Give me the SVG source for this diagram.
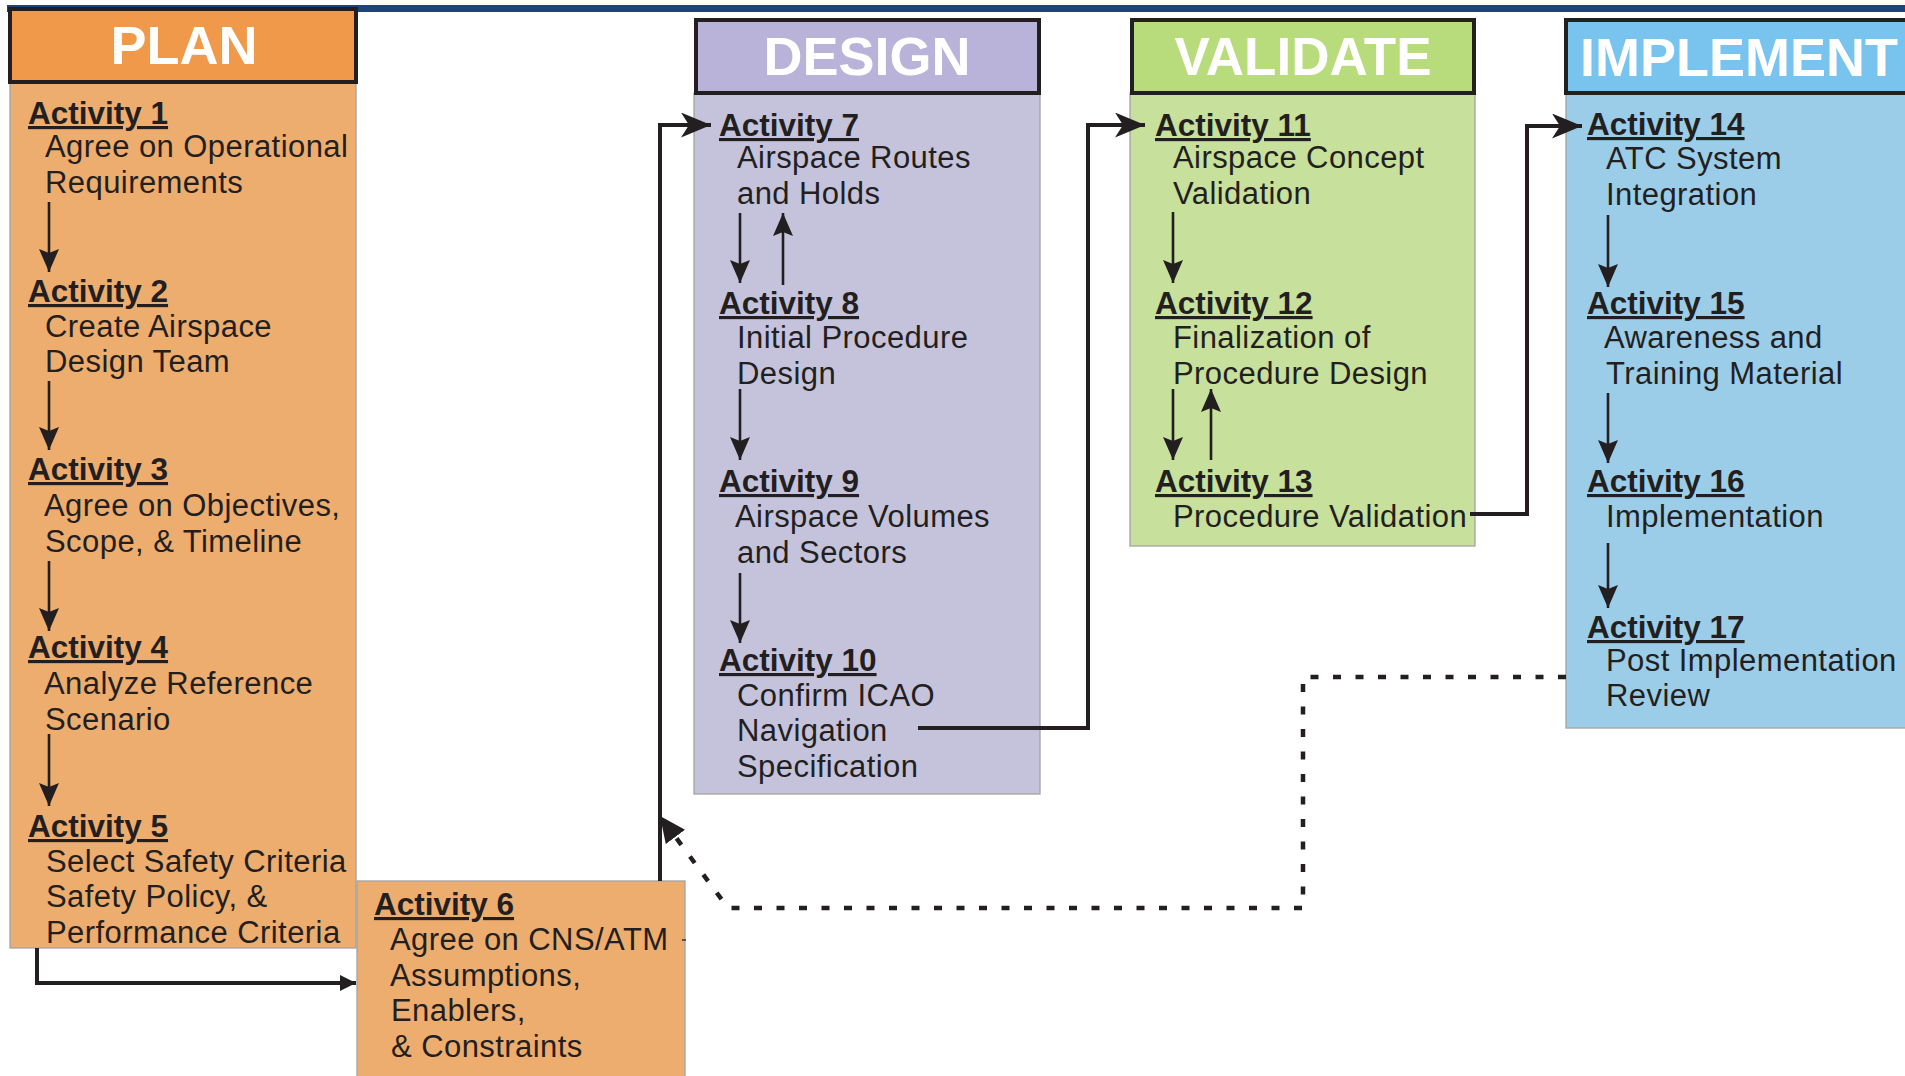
<svg xmlns="http://www.w3.org/2000/svg" width="1905" height="1076" viewBox="0 0 1905 1076">
  <defs>
    <style>
      .hdr { stroke: #231f20; stroke-width: 4; }
      .body { stroke: #a3a3a3; stroke-width: 1.3; }
      .htxt { font-family: "Liberation Sans", Arial, sans-serif; font-weight: bold; font-size: 54px; fill: #ffffff; text-anchor: middle; }
      .act { font-family: "Liberation Sans", Arial, sans-serif; font-weight: bold; font-size: 31.5px; fill: #231f20; text-decoration: underline; }
      .desc { font-family: "Liberation Sans", Arial, sans-serif; font-size: 31px; letter-spacing: 0.43px; fill: #231f20; }
      .thin { fill: none; stroke: #231f20; stroke-width: 2.6; }
      .thick { fill: none; stroke: #231f20; stroke-width: 4; }
      .dots { fill: none; stroke: #231f20; stroke-width: 4.5; stroke-dasharray: 8 14.5; }
    </style>
    <marker id="ah" markerUnits="userSpaceOnUse" viewBox="0 0 23 20" refX="23" refY="10" markerWidth="23" markerHeight="20" orient="auto">
      <path d="M0,0 L23,10 L0,20 L4,10 Z" fill="#231f20"/>
    </marker>
    <marker id="ahBig" markerUnits="userSpaceOnUse" viewBox="0 0 30 25" refX="30" refY="12.5" markerWidth="30" markerHeight="25" orient="auto">
      <path d="M0,0 L30,12.5 L0,25 L8,12.5 Z" fill="#231f20"/>
    </marker>
    <marker id="ahSmall" markerUnits="userSpaceOnUse" viewBox="0 0 16 16" refX="16" refY="8" markerWidth="16" markerHeight="16" orient="auto">
      <path d="M0,0 L16,8 L0,16 Z" fill="#231f20"/>
    </marker>
    <marker id="ahDot" markerUnits="userSpaceOnUse" viewBox="0 0 26 24" refX="26" refY="12" markerWidth="26" markerHeight="24" orient="auto">
      <path d="M0,0 L26,12 L0,24 Z" fill="#231f20"/>
    </marker>
  </defs>

  <rect x="0" y="0" width="1905" height="1076" fill="#ffffff"/>
  <!-- top navy rule -->
  <rect x="7" y="5" width="1898" height="7" fill="#1f4278"/>

  <!-- PLAN column -->
  <g id="plan-column">
    <rect class="body" x="10" y="83" width="346" height="865" fill="#edad6e"/>
    <rect class="hdr" x="10" y="9" width="346" height="73" fill="#f0994a"/>
    <text class="htxt" x="184" y="64">PLAN</text>
  </g>
  <g id="activity-1">
    <text class="act" x="28" y="124">Activity 1</text>
    <text class="desc" x="45" y="157">Agree on Operational</text>
    <text class="desc" x="45" y="193">Requirements</text>
  </g>
  <g id="activity-2">
    <text class="act" x="28" y="302">Activity 2</text>
    <text class="desc" x="45" y="337">Create Airspace</text>
    <text class="desc" x="45" y="372">Design Team</text>
  </g>
  <g id="activity-3">
    <text class="act" x="28" y="480">Activity 3</text>
    <text class="desc" x="44" y="516">Agree on Objectives,</text>
    <text class="desc" x="45" y="552">Scope, &amp; Timeline</text>
  </g>
  <g id="activity-4">
    <text class="act" x="28" y="658">Activity 4</text>
    <text class="desc" x="44" y="694">Analyze Reference</text>
    <text class="desc" x="45" y="730">Scenario</text>
  </g>
  <g id="activity-5">
    <text class="act" x="28" y="837">Activity 5</text>
    <text class="desc" x="46" y="872">Select Safety Criteria</text>
    <text class="desc" x="46" y="907">Safety Policy, &amp;</text>
    <text class="desc" x="46" y="943">Performance Criteria</text>
  </g>
  <g id="activity-6">
    <rect class="body" x="357" y="881" width="328" height="200" fill="#edad6e"/>
    <text class="act" x="374" y="915">Activity 6</text>
    <text class="desc" x="390" y="950">Agree on CNS/ATM</text>
    <text class="desc" x="390" y="986">Assumptions,</text>
    <text class="desc" x="391" y="1021">Enablers,</text>
    <text class="desc" x="391" y="1057">&amp; Constraints</text>
    <line x1="682" y1="940" x2="686" y2="940" stroke="#555555" stroke-width="2"/>
  </g>

  <!-- DESIGN column -->
  <g id="design-column">
    <rect class="body" x="694" y="93" width="346" height="701" fill="#c5c3dc"/>
    <rect class="hdr" x="696" y="20" width="343" height="73" fill="#b9b3d9"/>
    <text class="htxt" x="867" y="75">DESIGN</text>
  </g>
  <g id="activity-7">
    <text class="act" x="719" y="136">Activity 7</text>
    <text class="desc" x="737" y="168">Airspace Routes</text>
    <text class="desc" x="737" y="204">and Holds</text>
  </g>
  <g id="activity-8">
    <text class="act" x="719" y="314">Activity 8</text>
    <text class="desc" x="737" y="348">Initial Procedure</text>
    <text class="desc" x="737" y="384">Design</text>
  </g>
  <g id="activity-9">
    <text class="act" x="719" y="492">Activity 9</text>
    <text class="desc" x="735" y="527">Airspace Volumes</text>
    <text class="desc" x="737" y="563">and Sectors</text>
  </g>
  <g id="activity-10">
    <text class="act" x="719" y="671">Activity 10</text>
    <text class="desc" x="737" y="706">Confirm ICAO</text>
    <text class="desc" x="737" y="741">Navigation</text>
    <text class="desc" x="737" y="777">Specification</text>
  </g>

  <!-- VALIDATE column -->
  <g id="validate-column">
    <rect class="body" x="1130" y="93" width="345" height="453" fill="#c7e09b"/>
    <rect class="hdr" x="1132" y="20" width="342" height="73" fill="#b8dc7c"/>
    <text class="htxt" x="1303" y="75" style="font-size:53px">VALIDATE</text>
  </g>
  <g id="activity-11">
    <text class="act" x="1155" y="136">Activity 11</text>
    <text class="desc" x="1173" y="168">Airspace Concept</text>
    <text class="desc" x="1173" y="204">Validation</text>
  </g>
  <g id="activity-12">
    <text class="act" x="1155" y="314">Activity 12</text>
    <text class="desc" x="1173" y="348">Finalization of</text>
    <text class="desc" x="1173" y="384">Procedure Design</text>
  </g>
  <g id="activity-13">
    <text class="act" x="1155" y="492">Activity 13</text>
    <text class="desc" x="1173" y="527">Procedure Validation</text>
  </g>

  <!-- IMPLEMENT column -->
  <g id="implement-column">
    <rect class="body" x="1566" y="93" width="346" height="635" fill="#9bcde8"/>
    <rect class="hdr" x="1566" y="20" width="350" height="73" fill="#78c4ee"/>
    <text class="htxt" x="1739" y="76">IMPLEMENT</text>
  </g>
  <g id="activity-14">
    <text class="act" x="1587" y="135">Activity 14</text>
    <text class="desc" x="1606" y="169">ATC System</text>
    <text class="desc" x="1606" y="205">Integration</text>
  </g>
  <g id="activity-15">
    <text class="act" x="1587" y="314">Activity 15</text>
    <text class="desc" x="1604" y="348">Awareness and</text>
    <text class="desc" x="1606" y="384">Training Material</text>
  </g>
  <g id="activity-16">
    <text class="act" x="1587" y="492">Activity 16</text>
    <text class="desc" x="1606" y="527">Implementation</text>
  </g>
  <g id="activity-17">
    <text class="act" x="1587" y="638">Activity 17</text>
    <text class="desc" x="1606" y="671">Post Implementation</text>
    <text class="desc" x="1606" y="706">Review</text>
  </g>

  <!-- connectors -->
  <g id="connectors">
    <!-- PLAN column -->
    <path class="thin" d="M49,202 V272" marker-end="url(#ah)"/>
    <path class="thin" d="M49,381 V450" marker-end="url(#ah)"/>
    <path class="thin" d="M49,561 V631" marker-end="url(#ah)"/>
    <path class="thin" d="M49,734 V806" marker-end="url(#ah)"/>
    <!-- 5 to 6 -->
    <path class="thick" d="M37,948 V983 H356" marker-end="url(#ahSmall)"/>
    <!-- 6 to 7 -->
    <path class="thick" d="M660,881 V125 H711" marker-end="url(#ahBig)"/>
    <!-- DESIGN column -->
    <path class="thin" d="M740,213 V283" marker-end="url(#ah)"/>
    <path class="thin" d="M783,285 V213" marker-end="url(#ah)"/>
    <path class="thin" d="M740,389 V460" marker-end="url(#ah)"/>
    <path class="thin" d="M740,573 V643" marker-end="url(#ah)"/>
    <!-- 10 to 11 -->
    <path class="thick" d="M918,728 H1088 V125 H1145" marker-end="url(#ahBig)"/>
    <!-- VALIDATE column -->
    <path class="thin" d="M1173,212 V283" marker-end="url(#ah)"/>
    <path class="thin" d="M1173,389 V460" marker-end="url(#ah)"/>
    <path class="thin" d="M1211,460 V389" marker-end="url(#ah)"/>
    <!-- 13 to 14 -->
    <path class="thick" d="M1470,514 H1527 V126 H1582" marker-end="url(#ahBig)"/>
    <!-- IMPLEMENT column -->
    <path class="thin" d="M1608,215 V287" marker-end="url(#ah)"/>
    <path class="thin" d="M1608,393 V463" marker-end="url(#ah)"/>
    <path class="thin" d="M1608,543 V608" marker-end="url(#ah)"/>
    <!-- 17 back to design (dotted) -->
    <path class="dots" d="M1566,677 H1303 V908 H728 L660,816" marker-end="url(#ahDot)"/>
  </g>
</svg>
